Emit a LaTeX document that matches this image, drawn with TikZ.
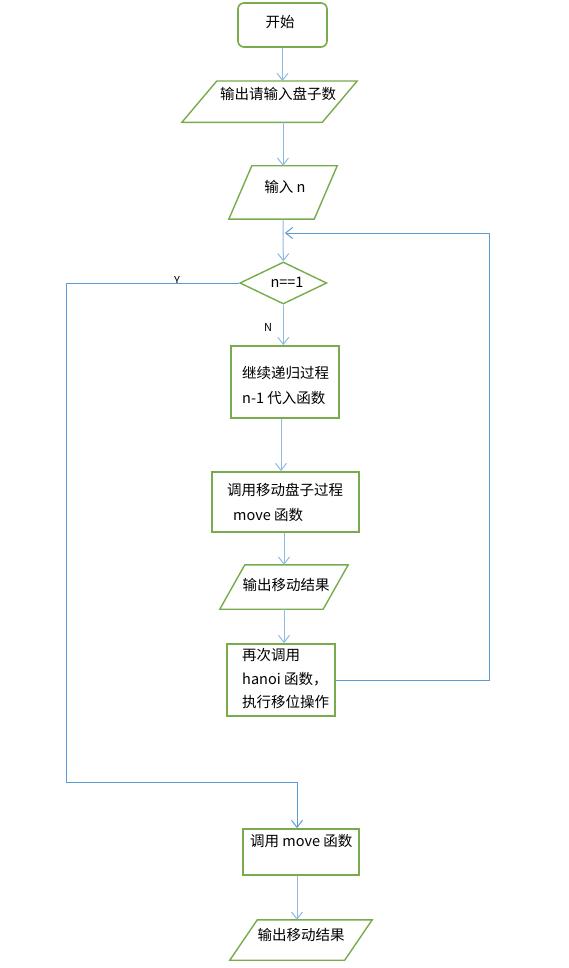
\documentclass[tikz,border=0pt]{standalone}
\usepackage{fontspec}
\setmainfont{Noto Sans CJK SC}
\usetikzlibrary{arrows.meta,shapes.geometric}
\definecolor{gr}{HTML}{77AB4B}
\definecolor{ln}{HTML}{5B9BD5}
\definecolor{lnl}{HTML}{8DB9E4}
\newcommand\drawpara[2]{\draw[pline] ([xshift=#2]#1.north west) -- (#1.north east) -- ([xshift=-#2]#1.south east) -- (#1.south west) -- cycle;}
\begin{document}
\begin{tikzpicture}[x=1pt,y=-1pt,
  every node/.style={font=\fontsize{14.5}{17}\selectfont, inner sep=0pt},
  bx/.style={draw=gr, line width=1.8pt, minimum width=#1},
  pline/.style={draw=gr, line width=1.4pt},
  pbox/.style={draw=none, minimum width=#1},
  arr/.style={draw=lnl, line width=1pt, -{Straight Barb[length=7pt,width=11pt,line width=1pt]}},
  arrd/.style={draw=ln, line width=0.9pt, -{Straight Barb[length=7pt,width=11pt,line width=1pt]}},
  lbl/.style={font=\fontsize{11}{13}\selectfont}
]
\useasboundingbox (0,0) rectangle (568,968);
% shapes
\node[draw=gr, line width=1.6pt, rounded corners=6pt, minimum width=89pt, minimum height=44pt] (start) at (282.5,25) {};
\node[pbox=175pt, minimum height=41pt] (p1) at (269.5,101.7) {};
\drawpara{p1}{35pt}
\node[pbox=108pt, minimum height=53pt] (p2) at (283,192.5) {};
\drawpara{p2}{23pt}
\node[draw=gr, line width=1.4pt, diamond, aspect=2, minimum width=87pt, minimum height=42pt] (dec) at (283.3,283) {};
\node[bx=108pt, minimum height=72pt] (box1) at (285,382) {};
\node[bx=147pt, minimum height=60pt] (box2) at (285.5,502) {};
\node[pbox=128pt, minimum height=44pt] (p3) at (284,587) {};
\drawpara{p3}{25pt}
\node[bx=108pt, minimum height=72pt] (box3) at (281,680) {};
\node[bx=116pt, minimum height=46pt] (box4) at (301,852) {};
\node[pbox=142pt, minimum height=40pt] (p4) at (301,940) {};
\drawpara{p4}{27.5pt}
% texts
\node (t0) at (280,22) {开始};
\node (t1) at (278,94) {输出请输入盘子数};
\node (t2) at (285,187) {输入 n};
\node (t3) at (287,282) {n==1};
\node[anchor=west] (t4a) at (242,373) {继续递归过程};
\node[anchor=west] (t4b) at (242,398) {n-1 代入函数};
\node[anchor=west] (t5a) at (227,490) {调用移动盘子过程};
\node[anchor=west] (t5b) at (233,515) {move 函数};
\node (t6) at (286,585) {输出移动结果};
\node[anchor=west] (t7a) at (242,655) {再次调用};
\node[anchor=west] (t7b) at (242,679) {hanoi 函数，};
\node[anchor=west] (t7c) at (242,702) {执行移位操作};
\node[anchor=west] (t8) at (250,841) {调用 move 函数};
\node (t9) at (301,935) {输出移动结果};
\node[lbl] (ly) at (177,280) {Y};
\node[lbl] (ln) at (268,327) {N};
% connectors
\coordinate (lr) at (489,233);
\coordinate (yl) at (66,782);
\draw[arr] (start.south) -- (start.south |- p1.north);
\draw[arr] (p1.south -| p2.north) -- (p2.north);
\draw[arr] (p2.south) -- (dec.north);
\draw[arr] (dec.south) -- (dec.south |- box1.north);
\draw[arr] ([xshift=-4pt]box1.south) -- ([xshift=-4pt]box1.south |- box2.north);
\draw[arr] (p3.north |- box2.south) -- (p3.north);
\draw[arr] (p3.south) -- (p3.south |- box3.north);
\draw[arr] ([xshift=-4pt]box4.south) -- ([xshift=-4pt]box4.south |- p4.north);
\draw[arrd] (box3.east) -| (lr) -- ([xshift=1.5pt]lr -| dec.north);
\draw[arrd] (dec.west) -| (yl) -| ([xshift=-4pt]box4.north);
\end{tikzpicture}
\end{document}
